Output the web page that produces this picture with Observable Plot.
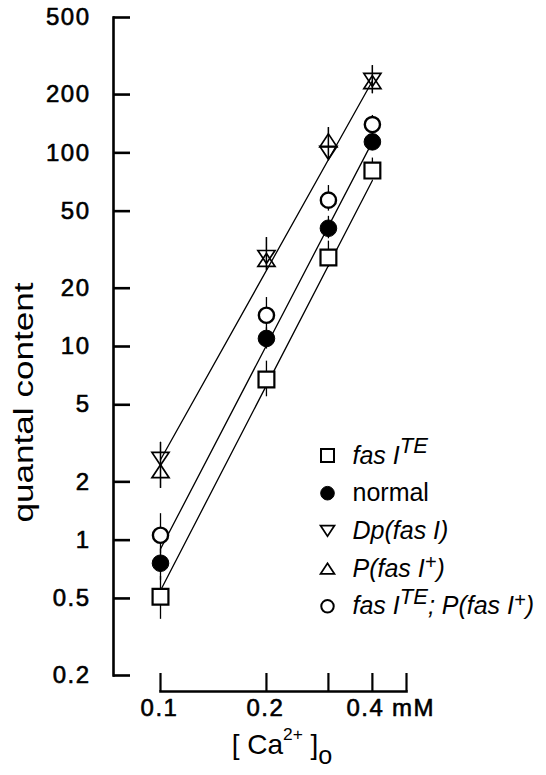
<!DOCTYPE html>
<html><head><meta charset="utf-8">
<script src="https://cdn.jsdelivr.net/npm/d3@7"></script>
<script src="https://cdn.jsdelivr.net/npm/@observablehq/plot@0.6"></script>
<style>
body{margin:0;background:#fff}
#chart svg{font-family:"Liberation Sans",Arial,Helvetica,sans-serif}
</style></head><body><div id="chart"></div>
<script>
// ---- data ----
const calcium = [0.1, 0.2, 0.3, 0.4];              // [Ca2+]o, mM
const fasTE      = [0.51, 6.75, 28.8, 81];
const fasTELo    = [0.39, 5.5, 25.6, 72.6];
const fasTEHi    = [0.65, 8.4, 35, 94];
const normal     = [0.76, 11.0, 40.8, 114];
const normalLo   = [0.62, 9.7, 36, 103];
const normalHi   = [0.9, 12.5, 47, 128];
const dpFasI     = [2.63, 29, 100, 238];
const pFasI      = [2.27, 28, 116, 232];
const triLo      = [1.85, 24.7, 93.5, 202];
const triHi      = [3.2, 36.5, 135, 282];
const fasTEpFasI = [1.06, 14.5, 57, 140];
const fasTEpLo   = [0.85, 12, 50, 130];
const fasTEpHi   = [1.37, 17.9, 67.8, 156];

const fitEnds      = [0.1, 0.4];
const fitTriangles = [2.6, 235];
const fitCircles   = [0.9, 114];
const fitSquares   = [0.55, 72];

const yTicks = [0.2, 0.5, 1, 2, 5, 10, 20, 50, 100, 200, 500];
const xTicks = [0.1, 0.2, 0.3, 0.4, 0.5];
const xTickLabels = [0.1, 0.2];
const xTickLabel4 = [0.4];
const xUnitTick = [0.5];
const xUnit = "mM";
const yTitle = "quantal content";
const xTitle = "[ Ca2+ ]o";
const seriesNames = ["fas I^TE", "normal", "Dp(fas I)", "P(fas I+)", "fas I^TE; P(fas I+)"];

// ---- symbols ----
const squareSym = {draw(c, size){ const r = Math.sqrt(size/Math.PI)*0.88; c.rect(-r,-r,2*r,2*r); }};
const triDown = {draw(c, size){ const r = Math.sqrt(size/Math.PI); const w=0.95*r, h=0.72*r; c.moveTo(-w,-h); c.lineTo(w,-h); c.lineTo(0,h); c.closePath(); }};
const triUp = {draw(c, size){ const r = Math.sqrt(size/Math.PI); const w=0.95*r, h=0.72*r; c.moveTo(0,-h); c.lineTo(w,h); c.lineTo(-w,h); c.closePath(); }};

const rows = (ys, lo, hi) => calcium.map((x, i) => ({x, y: ys[i], lo: lo[i], hi: hi[i]}));
const fitRows = (ys) => fitEnds.map((x, i) => ({x, y: ys[i]}));

const styles = [
  {data: rows(fasTE, fasTELo, fasTEHi), symbol: squareSym, fill: "white", stroke: "black", strokeWidth: 2.2, r: 9},
  {data: rows(normal, normalLo, normalHi), symbol: "circle", fill: "black", stroke: "black", strokeWidth: 1, r: 8.3},
  {data: rows(dpFasI, triLo, triHi), symbol: triDown, fill: "none", stroke: "black", strokeWidth: 1.7, r: 9},
  {data: rows(pFasI, triLo, triHi), symbol: triUp, fill: "none", stroke: "black", strokeWidth: 1.7, r: 9},
  {data: rows(fasTEpFasI, fasTEpLo, fasTEpHi), symbol: "circle", fill: "white", stroke: "black", strokeWidth: 2.4, r: 7.6}
];

const tickFont = 24;
const tickText = {fontSize: tickFont, stroke: "black", strokeWidth: 0.6, fill: "black"};
const marks = [
  Plot.frame({anchor: "left", insetBottom: 16, strokeWidth: 2.6}),
  Plot.frame({anchor: "bottom", insetLeft: 47, strokeWidth: 2.6}),
  Plot.axisY({ticks: yTicks, tickSize: -17, strokeWidth: 2.6, tickFormat: () => "", label: null}),
  Plot.text(yTicks, {y: d => d, text: d => String(d), frameAnchor: "left", dx: -23, textAnchor: "end", ...tickText}),
  Plot.axisX({ticks: xTicks, tickSize: -18, strokeWidth: 2.2, tickFormat: () => "", label: null}),
  Plot.text(xTickLabels, {x: d => d, text: d => String(d), frameAnchor: "bottom", dy: 24, dx: -1, ...tickText}),
  Plot.text(xTickLabel4, {x: d => d, text: d => String(d), frameAnchor: "bottom", dy: 24, dx: -7, ...tickText}),
  Plot.text(xUnitTick, {x: d => d, text: () => xUnit, frameAnchor: "bottom", dy: 24, dx: 7, ...tickText}),
  Plot.line(fitRows(fitTriangles), {x: "x", y: "y", stroke: "black", strokeWidth: 1.3}),
  Plot.line(fitRows(fitCircles), {x: "x", y: "y", stroke: "black", strokeWidth: 1.3}),
  Plot.line(fitRows(fitSquares), {x: "x", y: "y", stroke: "black", strokeWidth: 1.3}),
  ...styles.map(s => Plot.ruleX(s.data, {x: "x", y1: "lo", y2: "hi", stroke: "black", strokeWidth: 1.3})),
  ...styles.map(s => Plot.dot(s.data, {x: "x", y: "y", symbol: s.symbol, r: s.r, fill: s.fill, stroke: s.stroke, strokeWidth: s.strokeWidth})),
  // legend
  ...styles.map((s, i) => Plot.dot([seriesNames[i]], {frameAnchor: "top-left", dx: 214, dy: 438 + i * 37.7, symbol: s.symbol, r: s.r * 0.82, fill: s.fill, stroke: s.stroke, strokeWidth: Math.min(s.strokeWidth, 2)})),
  ...seriesNames.map((name, i) => Plot.text([name], {text: d => d, frameAnchor: "top-left", dx: 239, dy: 438 + i * 37.7, textAnchor: "start", lineAnchor: "middle", fontSize: 25})),
  // titles
  Plot.text([yTitle], {text: d => d, frameAnchor: "left", rotate: -90, textAnchor: "middle", lineAnchor: "middle", fontSize: 27}),
  Plot.text([xTitle], {text: d => d, frameAnchor: "bottom", dx: 22, dy: 54, fontSize: 28, lineAnchor: "middle"})
];

const dims = {width: 546, height: 775, marginLeft: 113, marginRight: 140, marginTop: 17, marginBottom: 84};
const chart = Plot.plot({
  ...dims,
  style: {background: "white", color: "black", fontFamily: "'Liberation Sans', Arial, Helvetica, sans-serif"},
  x: {type: "log", domain: [0.1, 0.5], insetLeft: 47},
  y: {type: "log", domain: [0.2, 500], insetBottom: 16},
  marks
});
document.getElementById("chart").appendChild(chart);

// rich text: [text, italic, shift(em, negative = up), scale]
const rich = {
  "fas I^TE": [["fas I", 1, 0, 1], ["TE", 1, -0.42, 0.88]],
  "Dp(fas I)": [["Dp(fas I)", 1, 0, 1]],
  "P(fas I+)": [["P(fas I", 1, 0, 1], ["+", 1, -0.3, 0.8], [")", 1, 0, 1]],
  "fas I^TE; P(fas I+)": [["fas I", 1, 0, 1], ["TE", 1, -0.42, 0.88], [";", 1, 0, 1], [" P(fas I", 1, 0, 1], ["+", 1, -0.3, 0.8], [")", 1, 0, 1]],
  "[ Ca2+ ]o": [["[ Ca", 0, 0, 1], ["2+", 0, -0.5, 0.62], [" ]", 0, 0, 1], ["o", 0, 0.33, 0.9]]
};
const tickStrings = new Set([...yTicks, ...xTickLabels, ...xTickLabel4].map(String).concat([xUnit]));
chart.querySelectorAll("text").forEach(t => {
  const content = t.textContent;
  if (tickStrings.has(content)) t.style.letterSpacing = "1.5px";
  if (content === yTitle) {
    // centre the rotated title beside the axis, drawn narrow like the original lettering
    t.setAttribute("transform", `translate(${dims.marginLeft - 89},402) rotate(-90)`);
    t.setAttribute("textLength", 240);
    t.setAttribute("lengthAdjust", "spacingAndGlyphs");
  }
  const parts = rich[content];
  if (!parts) return;
  const fs = parseFloat(getComputedStyle(t).fontSize);
  t.textContent = "";
  let cur = 0;
  for (const [s, it, shift, scale] of parts) {
    const ts = document.createElementNS("http://www.w3.org/2000/svg", "tspan");
    ts.textContent = s;
    const target = shift * fs;
    if (target !== cur) ts.setAttribute("dy", target - cur);
    cur = target;
    if (scale !== 1) ts.setAttribute("font-size", fs * scale);
    if (it) ts.setAttribute("font-style", "italic");
    t.appendChild(ts);
  }
});
</script></body></html>
